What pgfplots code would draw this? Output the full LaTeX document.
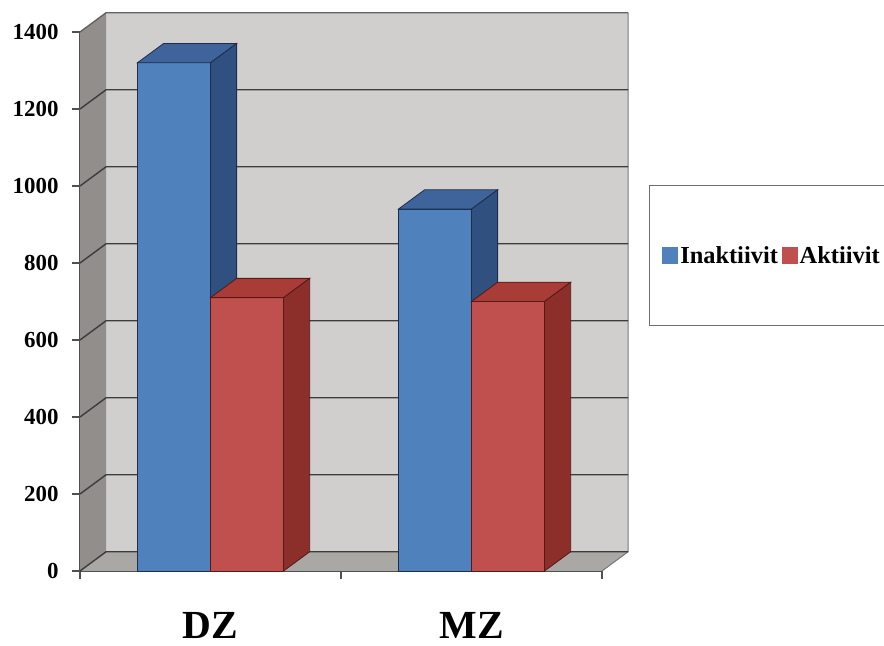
\documentclass[border=0pt]{standalone}
\usepackage{pgfplots}
\pgfplotsset{compat=1.18}
\usepackage{fontspec}
\setmainfont{Liberation Serif}
\definecolor{bfront}{RGB}{79,129,189}
\definecolor{btop}{RGB}{62,100,155}
\definecolor{bside}{RGB}{48,80,128}
\definecolor{bedge}{RGB}{30,45,75}
\definecolor{rfront}{RGB}{192,80,77}
\definecolor{rtop}{RGB}{170,60,56}
\definecolor{rside}{RGB}{140,46,42}
\definecolor{redge}{RGB}{85,25,22}
\definecolor{backwall}{RGB}{208,207,206}
\definecolor{leftwall}{RGB}{145,142,139}
\definecolor{floorc}{RGB}{170,168,165}
\definecolor{gridc}{RGB}{60,60,60}
\definecolor{axisc}{RGB}{80,80,80}
\definecolor{legedge}{RGB}{110,110,110}
\begin{document}
\begin{tikzpicture}[x=1bp,y=1bp]
\begin{axis}[
  at={(80bp,75bp)}, anchor=south west,
  scale only axis, width=522bp, height=539bp,
  xmin=-0.5, xmax=1.5, ymin=0, ymax=1400,
  clip=false,
  axis lines*=left,
  axis line style={draw=axisc, line width=1.2pt},
  tick align=outside,
  major tick length=8bp,
  tick style={draw=axisc, line width=1.2pt},
  xtick={-0.5,0.5,1.5}, xticklabels={},
  extra x ticks={0,1}, extra x tick labels={DZ,MZ},
  extra x tick style={major tick length=0pt, tick style={draw=none},
    tick label style={font=\fontsize{40}{40}\selectfont\bfseries, yshift=-38bp}},
  ytick={0,200,400,600,800,1000,1200,1400},
  yticklabel style={font=\fontsize{23}{23}\selectfont\bfseries, xshift=-10bp,
    /pgf/number format/1000 sep={}},
  /pgf/number format/assume math mode=true,
  legend columns=2,
  legend cell align=left,
  legend style={at={(1.09,0.7161)}, anchor=north west, draw=legedge, line width=1pt,
    inner xsep=13bp, inner ysep=59bp,
    font=\fontsize{24.5}{24.5}\selectfont\bfseries,
    /tikz/every even column/.append style={column sep=2bp}},
]
% walls and floor
\addplot[forget plot, fill=backwall, draw=none] coordinates {(-0.4,50) (1.6,50) (1.6,1450) (-0.4,1450)} --cycle;
\addplot[forget plot, fill=leftwall, draw=none] coordinates {(-0.5,0) (-0.4,50) (-0.4,1450) (-0.5,1400)} --cycle;
\addplot[forget plot, fill=floorc, draw=none] coordinates {(-0.5,0) (1.5,0) (1.6,50) (-0.4,50)} --cycle;
\addplot[forget plot, draw=gridc!70, line width=1pt] coordinates {(1.5,0) (1.6,50) (1.6,1450)};
% gridlines
\addplot[forget plot, draw=gridc, line width=1.4pt] coordinates {(-0.5,0) (-0.4,50) (1.6,50)};
\addplot[forget plot, draw=gridc, line width=1.4pt] coordinates {(-0.5,200) (-0.4,250) (1.6,250)};
\addplot[forget plot, draw=gridc, line width=1.4pt] coordinates {(-0.5,400) (-0.4,450) (1.6,450)};
\addplot[forget plot, draw=gridc, line width=1.4pt] coordinates {(-0.5,600) (-0.4,650) (1.6,650)};
\addplot[forget plot, draw=gridc, line width=1.4pt] coordinates {(-0.5,800) (-0.4,850) (1.6,850)};
\addplot[forget plot, draw=gridc, line width=1.4pt] coordinates {(-0.5,1000) (-0.4,1050) (1.6,1050)};
\addplot[forget plot, draw=gridc, line width=1.4pt] coordinates {(-0.5,1200) (-0.4,1250) (1.6,1250)};
\addplot[forget plot, draw=gridc!80, line width=1.4pt] coordinates {(-0.5,1400) (-0.4,1450) (1.6,1450)};
% Inaktiivit
\addplot[ybar, bar width=0.28, bar shift=-0.14, fill=bfront, draw=bedge, line width=0.8pt,
  legend image code/.code={\fill[bfront] (0bp,-8bp) rectangle (15bp,8bp);}]
  coordinates {(0,1320) (1,940)};
\addlegendentry{Inaktiivit}
\addplot[forget plot, fill=btop, draw=bedge, line width=0.8pt] coordinates {(-0.28,1320) (0,1320) (0.1,1370) (-0.18,1370)} --cycle;
\addplot[forget plot, fill=bside, draw=bedge, line width=0.8pt] coordinates {(0,0) (0.1,50) (0.1,1370) (0,1320)} --cycle;
\addplot[forget plot, fill=btop, draw=bedge, line width=0.8pt] coordinates {(0.72,940) (1,940) (1.1,990) (0.82,990)} --cycle;
\addplot[forget plot, fill=bside, draw=bedge, line width=0.8pt] coordinates {(1,0) (1.1,50) (1.1,990) (1,940)} --cycle;
% Aktiivit
\addplot[ybar, bar width=0.28, bar shift=0.14, fill=rfront, draw=redge, line width=0.8pt,
  legend image code/.code={\fill[rfront] (0bp,-8bp) rectangle (15bp,8bp);}]
  coordinates {(0,710) (1,700)};
\addlegendentry{Aktiivit}
\addplot[forget plot, fill=rtop, draw=redge, line width=0.8pt] coordinates {(0,710) (0.28,710) (0.38,760) (0.1,760)} --cycle;
\addplot[forget plot, fill=rside, draw=redge, line width=0.8pt] coordinates {(0.28,0) (0.38,50) (0.38,760) (0.28,710)} --cycle;
\addplot[forget plot, fill=rtop, draw=redge, line width=0.8pt] coordinates {(1,700) (1.28,700) (1.38,750) (1.1,750)} --cycle;
\addplot[forget plot, fill=rside, draw=redge, line width=0.8pt] coordinates {(1.28,0) (1.38,50) (1.38,750) (1.28,700)} --cycle;
\end{axis}
\pgfresetboundingbox
\path[use as bounding box] (0,0) rectangle (884,646);
\end{tikzpicture}
\end{document}
